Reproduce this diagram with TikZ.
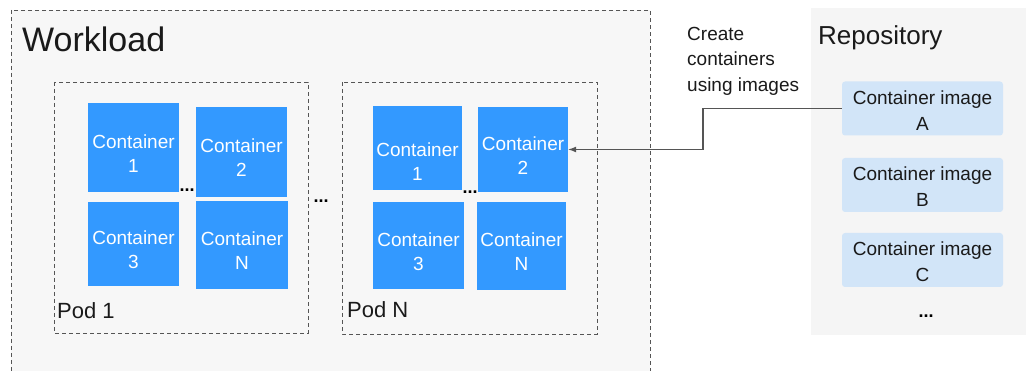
\documentclass[tikz,border=0pt]{standalone}
\usepackage{fontspec}
\setmainfont{Liberation Sans}
\usetikzlibrary{arrows.meta}
\definecolor{bgwork}{HTML}{F7F7F7}
\definecolor{bgrepo}{HTML}{F5F5F5}
\definecolor{cblue}{HTML}{3399FF}
\definecolor{imgblue}{HTML}{D2E5F8}
\definecolor{dashgray}{HTML}{555555}
\definecolor{txt}{HTML}{1A1A1A}
\tikzset{
  dashbox/.style={draw=dashgray, line width=0.9pt, dash pattern=on 4pt off 3pt},
  ctxt/.style={text=white, align=center, inner sep=0pt, yshift=-6pt,
    font=\fontsize{19}{24}\selectfont},
  cont/.style={fill=cblue, draw=none, inner sep=0pt, label={[ctxt]center:#1}},
  contlow/.style={fill=cblue, draw=none, inner sep=0pt, label={[ctxt, yshift=-8pt]center:#1}},
  imgtxt/.style={text=txt, align=center, inner sep=0pt, yshift=-2pt,
    font=\fontsize{19}{26}\selectfont},
  imgbox/.style={fill=imgblue, draw=none, rounded corners=3pt, inner sep=0pt,
    minimum width=161pt, minimum height=54pt, label={[imgtxt]center:#1}},
  dots/.style={font=\fontsize{18}{18}\selectfont\bfseries, text=black, inner sep=0pt},
  lbl/.style={text=txt, inner sep=0pt, anchor=west},
  arr/.style={draw=dashgray, line width=1.1pt, -{Latex[length=8pt,width=6pt]}}
}
\begin{document}
\begin{tikzpicture}[x=1pt,y=-1pt]
\useasboundingbox (0,0) rectangle (1026,371);
\clip (0,0) rectangle (1026,371);
\fill[white] (0,0) rectangle (1026,371);
% Workload
\path[dashbox, fill=bgwork] (11,10) rectangle (650,400);
\node[lbl, font=\fontsize{34}{34}\selectfont] (work) at (22,39) {Workload};
% Repository
\fill[bgrepo] (811,8) rectangle (1030,335);
\node[lbl, font=\fontsize{26}{26}\selectfont] (repo) at (818,38) {Repository};
% Pod 1
\path[dashbox] (54,82) rectangle (308,333);
\node[lbl, font=\fontsize{22}{22}\selectfont] (pod1) at (57,311) {Pod 1};
\node[cont={Container\\1}, minimum width=91pt, minimum height=89pt] (p1c1) at (133.5,147.5) {};
\node[cont={Container\\2}, minimum width=91pt, minimum height=90pt] (p1c2) at (241.5,152) {};
\node[cont={Container\\3}, minimum width=91pt, minimum height=84pt] (p1c3) at (133.5,244) {};
\node[cont={Container\\N}, minimum width=92pt, minimum height=88pt] (p1cN) at (242,245) {};
\node[dots] (d1) at (187,190) {...};
% between pods
\node[dots] (d2) at (321,201) {...};
% Pod N
\path[dashbox] (342,82) rectangle (597,334);
\node[lbl, font=\fontsize{22}{22}\selectfont] (podN) at (347,310) {Pod N};
\node[contlow={Container\\1}, minimum width=89pt, minimum height=84pt] (nc1) at (417.5,148) {};
\node[cont={Container\\2}, minimum width=90pt, minimum height=85pt] (nc2) at (523,149.5) {};
\node[cont={Container\\3}, minimum width=91pt, minimum height=87pt] (nc3) at (418.5,245.5) {};
\node[cont={Container\\N}, minimum width=89pt, minimum height=88pt] (ncN) at (521.5,246) {};
\node[dots] (d3) at (470,192) {...};
% Repository images
\node[imgbox={Container image\\A}] (imgA) at (922.5,108.5) {};
\node[imgbox={Container image\\B}] (imgB) at (922.5,185) {};
\node[imgbox={Container image\\C}] (imgC) at (922.5,260) {};
\node[dots] (d4) at (926,316) {...};
% Create label
\node[text=txt, align=left, anchor=north west, inner sep=0pt,
  font=\fontsize{19}{25.5}\selectfont] (create) at (687,27) {Create\\containers\\using images};
% connector
\coordinate (bend) at (703,130);
\draw[arr] (imgA.west) -| (bend) |- (nc2.east);
\end{tikzpicture}
\end{document}
